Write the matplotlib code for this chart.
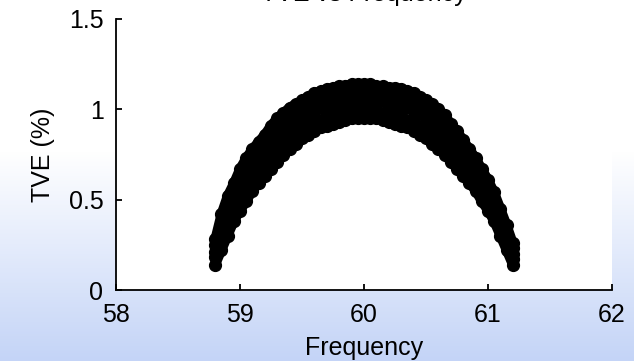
import numpy as np
import matplotlib
matplotlib.use("Agg")
import matplotlib.pyplot as plt

plt.rcParams['font.family'] = ['Liberation Sans', 'DejaVu Sans']

# Frequency grid (Hz) for the envelope sweeps
freq_fine = [58.80, 58.85, 58.90, 58.95, 59.00, 59.05, 59.10, 59.15, 59.20, 59.25,
             59.30, 59.35, 59.40, 59.45, 59.50, 59.55, 59.60, 59.65, 59.70, 59.75,
             59.80, 59.85, 59.90, 59.95, 60.00, 60.05, 60.10, 60.15, 60.20, 60.25,
             60.30, 60.35, 60.40, 60.45, 60.50, 60.55, 60.60, 60.65, 60.70, 60.75,
             60.80, 60.85, 60.90, 60.95, 61.00, 61.05, 61.10, 61.15, 61.20]

# Largest TVE (%) over the phase sweep
tve_upper = [0.28, 0.42, 0.52, 0.59, 0.67, 0.73, 0.78, 0.82, 0.86, 0.91,
             0.95, 0.98, 1.01, 1.03, 1.05, 1.07, 1.09, 1.10, 1.11, 1.12,
             1.13, 1.13, 1.14, 1.14, 1.14, 1.14, 1.13, 1.13, 1.12, 1.12,
             1.11, 1.10, 1.09, 1.07, 1.05, 1.03, 1.00, 0.97, 0.92, 0.88,
             0.83, 0.78, 0.73, 0.67, 0.61, 0.54, 0.45, 0.36, 0.26]

# Smallest TVE (%) over the phase sweep
tve_lower = [0.14, 0.22, 0.30, 0.38, 0.44, 0.49, 0.55, 0.59, 0.63, 0.67,
             0.71, 0.75, 0.78, 0.81, 0.84, 0.86, 0.88, 0.90, 0.91, 0.92,
             0.93, 0.94, 0.95, 0.95, 0.95, 0.95, 0.95, 0.94, 0.93, 0.92,
             0.91, 0.90, 0.88, 0.86, 0.84, 0.81, 0.78, 0.75, 0.71, 0.67,
             0.63, 0.59, 0.55, 0.49, 0.44, 0.38, 0.30, 0.22, 0.14]

# Coarser grid for the intermediate phase cases
freq_coarse = [58.8, 58.9, 59.0, 59.1, 59.2, 59.3, 59.4, 59.5, 59.6, 59.7,
               59.8, 59.9, 60.0, 60.1, 60.2, 60.3, 60.4, 60.5, 60.6, 60.7,
               60.8, 60.9, 61.0, 61.1, 61.2]

tve_phase_a = [0.18, 0.36, 0.50, 0.61, 0.69, 0.77, 0.84, 0.89, 0.93, 0.96,
               0.98, 1.00, 1.00, 0.99, 0.98, 0.96, 0.93, 0.89, 0.84, 0.76,
               0.68, 0.60, 0.48, 0.34, 0.17]
tve_phase_b = [0.21, 0.41, 0.56, 0.67, 0.75, 0.83, 0.90, 0.95, 0.99, 1.01,
               1.03, 1.05, 1.05, 1.04, 1.03, 1.01, 0.99, 0.95, 0.89, 0.82,
               0.73, 0.64, 0.53, 0.38, 0.20]
tve_phase_c = [0.25, 0.47, 0.61, 0.72, 0.80, 0.89, 0.95, 1.00, 1.04, 1.06,
               1.08, 1.09, 1.09, 1.09, 1.07, 1.06, 1.04, 1.00, 0.95, 0.87,
               0.78, 0.69, 0.57, 0.41, 0.23]

x_ticks = [58, 59, 60, 61, 62]
y_ticks = [0, 0.5, 1, 1.5]
y_tick_labels = ['0', '0.5', '1', '1.5']

W, H = 634, 361
fig = plt.figure(figsize=(W / 100, H / 100), dpi=100)

# Slide-style background: white at the top fading to pale blue at the bottom
t = np.linspace(0, 1, H)
w = np.clip((t - 0.42) / 0.58, 0, 1)
top = np.array([1.0, 1.0, 1.0])
bottom = np.array([196, 212, 247]) / 255
grad = (1 - w)[:, None] * top + w[:, None] * bottom
bg = fig.add_axes([0, 0, 1, 1], zorder=-10)
bg.imshow(grad[:, None, :], aspect='auto', extent=[0, 1, 0, 1])
bg.axis('off')

ax = fig.add_axes([116 / W, 1 - 290 / H, (612 - 116) / W, (290 - 19) / H])
ax.set_facecolor('white')

style = dict(color='k', lw=7, marker='o', ms=8.5, mfc='k', mec='k', mew=1,
             solid_capstyle='round', solid_joinstyle='round')
ax.plot(freq_fine, tve_lower, **style)
ax.plot(freq_coarse, tve_phase_a, **style)
ax.plot(freq_coarse, tve_phase_b, **style)
ax.plot(freq_coarse, tve_phase_c, **style)
ax.plot(freq_fine, tve_upper, **style)

ax.set_xlim(58, 62)
ax.set_ylim(0, 1.5)
ax.set_xticks(x_ticks)
ax.set_yticks(y_ticks)
ax.set_yticklabels(y_tick_labels)
for side in ('top', 'right'):
    ax.spines[side].set_visible(False)
for side in ('left', 'bottom'):
    ax.spines[side].set_linewidth(1.3)
ax.tick_params(direction='in', length=4, width=1.3, labelsize=18, pad=9)

ax.set_xlabel('Frequency', fontsize=18, labelpad=7)
ax.set_ylabel('TVE (%)', fontsize=18, labelpad=10)
fig.text(364 / W, 1 - 0.8 / H, 'TVE vs Frequency', ha='center', va='baseline',
         fontsize=18)

fig.savefig('out.png', dpi=100)
